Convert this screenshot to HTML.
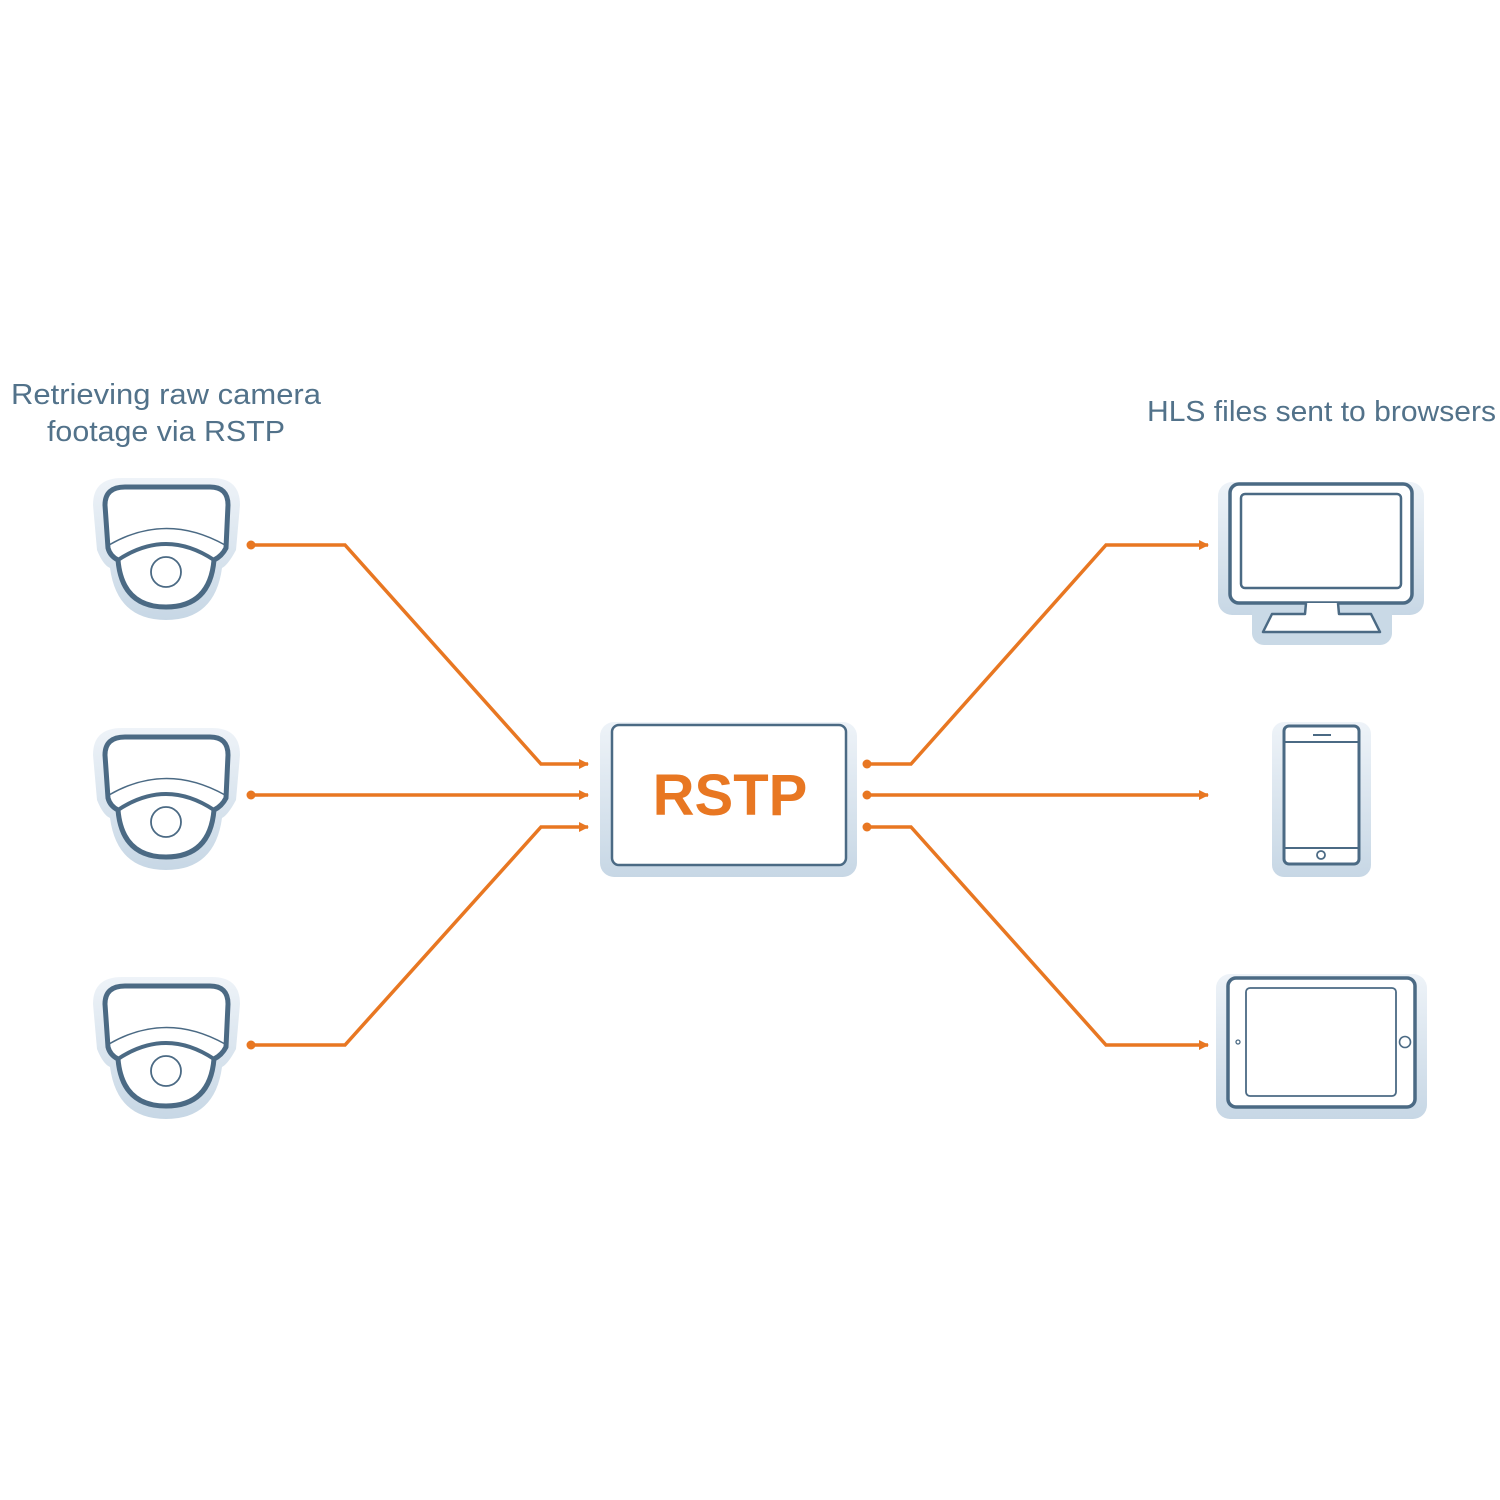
<!DOCTYPE html>
<html><head><meta charset="utf-8"><style>html,body{margin:0;padding:0;background:#fff}svg{display:block}</style></head>
<body>
<svg width="1500" height="1500" viewBox="0 0 1500 1500" xmlns="http://www.w3.org/2000/svg">
<defs>
<linearGradient id="sh" x1="0" y1="0" x2="0" y2="1">
<stop offset="0" stop-color="#eef3f8"/><stop offset="1" stop-color="#c7d7e5"/>
</linearGradient>
<marker id="ar" viewBox="0 0 10 10" refX="9" refY="5" markerWidth="10" markerHeight="10" markerUnits="userSpaceOnUse" orient="auto">
<path d="M0,0 L10,5 L0,10 Z" fill="#e87722"/></marker>
<g id="cam">
<path d="M97,550 L93,505 Q93,478 122,478 L212,478 Q240,478 240,505 L236,550 Q228,565 222,568 Q215,620 166,620 Q117,620 110,568 Q103,565 97,550 Z" fill="url(#sh)"/>
<path d="M108,548 L105,505 Q105,487 125,487 L210,487 Q228,487 228,505 L226,548 Q222,556 214,560 Q210,607 166,607 Q122,607 118,560 Q110,556 108,548 Z" fill="#fff" stroke="#4b6a84" stroke-width="5" stroke-linejoin="round"/>
<path d="M109,545 Q166,512 225,545" fill="none" stroke="#4b6a84" stroke-width="1.5"/>
<path d="M118,560 Q166,528 214,560" fill="none" stroke="#4b6a84" stroke-width="4"/>
<circle cx="166" cy="572" r="15" fill="none" stroke="#4b6a84" stroke-width="1.8"/>
</g>
</defs>
<g font-family="'Liberation Sans',sans-serif" font-size="29" fill="#52728a">
<text x="11" y="404" textLength="310" lengthAdjust="spacingAndGlyphs">Retrieving raw camera</text>
<text x="47" y="441" textLength="238" lengthAdjust="spacingAndGlyphs">footage via RSTP</text>
<text x="1147" y="421" textLength="349" lengthAdjust="spacingAndGlyphs">HLS files sent to browsers</text>
</g>
<use href="#cam"/>
<use href="#cam" y="250"/>
<use href="#cam" y="499"/>
<g fill="none" stroke="#e87722" stroke-width="3.5" stroke-linejoin="miter">
<polyline points="251,545 345,545 541,764 588,764" marker-end="url(#ar)"/>
<polyline points="251,795 588,795" marker-end="url(#ar)"/>
<polyline points="251,1045 345,1045 541,827 588,827" marker-end="url(#ar)"/>
<polyline points="867,764 911,764 1106,545 1208,545" marker-end="url(#ar)"/>
<polyline points="867,795 1208,795" marker-end="url(#ar)"/>
<polyline points="867,827 911,827 1106,1045 1208,1045" marker-end="url(#ar)"/>
</g>
<g fill="#e87722">
<circle cx="251" cy="545" r="4.5"/><circle cx="251" cy="795" r="4.5"/><circle cx="251" cy="1045" r="4.5"/>
<circle cx="867" cy="764" r="4.5"/><circle cx="867" cy="795" r="4.5"/><circle cx="867" cy="827" r="4.5"/>
</g>
<!-- RSTP box -->
<rect x="600" y="722" width="257" height="155" rx="14" fill="url(#sh)"/>
<rect x="612" y="725" width="234" height="140" rx="7" fill="#fff" stroke="#4b6a84" stroke-width="2.5"/>
<text x="730" y="815" text-anchor="middle" font-family="'Liberation Sans',sans-serif" font-weight="bold" font-size="58" fill="#e87722">RSTP</text>
<!-- monitor -->
<rect x="1218" y="482" width="206" height="133" rx="14" fill="url(#sh)"/>
<rect x="1252" y="600" width="140" height="45" rx="12" fill="#c9d9e6"/>
<rect x="1230" y="484" width="182" height="119" rx="9" fill="#fff" stroke="#4b6a84" stroke-width="3.5"/>
<rect x="1241" y="494" width="160" height="94" rx="4" fill="none" stroke="#4b6a84" stroke-width="2.5"/>
<path d="M1306,603 L1305,614 L1272,614 L1263,632 L1380,632 L1371,614 L1339,614 L1338,603" fill="#fff" stroke="#4b6a84" stroke-width="2.5" stroke-linejoin="round"/>
<!-- phone -->
<rect x="1272" y="722" width="99" height="155" rx="12" fill="url(#sh)"/>
<rect x="1284" y="726" width="75" height="138" rx="5" fill="#fff" stroke="#4b6a84" stroke-width="3"/>
<line x1="1285" y1="742" x2="1358" y2="742" stroke="#4b6a84" stroke-width="2"/>
<line x1="1285" y1="848" x2="1358" y2="848" stroke="#4b6a84" stroke-width="2"/>
<line x1="1313" y1="735" x2="1331" y2="735" stroke="#4b6a84" stroke-width="2"/>
<circle cx="1321" cy="855" r="4" fill="none" stroke="#4b6a84" stroke-width="1.8"/>
<!-- tablet -->
<rect x="1216" y="974" width="211" height="145" rx="14" fill="url(#sh)"/>
<rect x="1228" y="978" width="187" height="129" rx="8" fill="#fff" stroke="#4b6a84" stroke-width="3.5"/>
<rect x="1246" y="988" width="150" height="108" rx="4" fill="none" stroke="#4b6a84" stroke-width="1.8"/>
<circle cx="1238" cy="1042" r="2" fill="none" stroke="#4b6a84" stroke-width="1.3"/>
<circle cx="1405" cy="1042" r="5.5" fill="none" stroke="#4b6a84" stroke-width="1.6"/>
</svg>
</body></html>
